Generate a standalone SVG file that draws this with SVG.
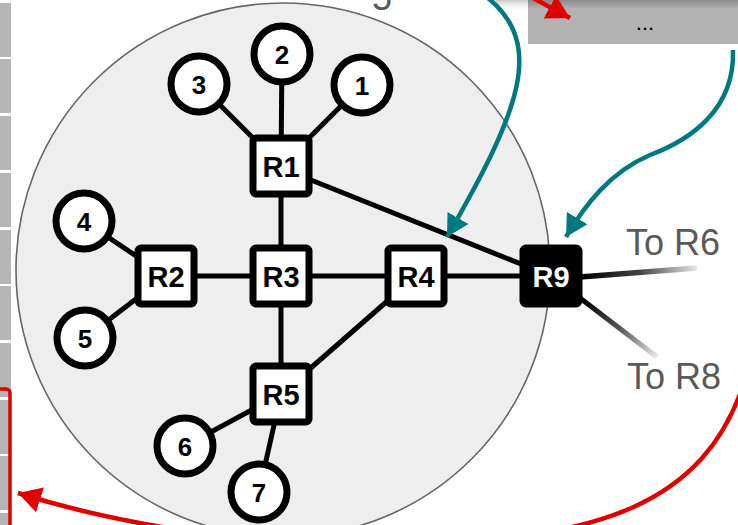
<svg xmlns="http://www.w3.org/2000/svg" width="738" height="525" viewBox="0 0 738 525">
<defs>
<style>
.cell{fill:#b5b5b5}
.edge{stroke:#000;stroke-width:5;stroke-linecap:butt;fill:none}
.rt rect{fill:#fff;stroke:#000;stroke-width:7}
.rt text{font-family:"Liberation Sans",Arial,sans-serif;font-weight:bold;font-size:29px;text-anchor:middle;fill:#000}
.host circle{fill:#fff;stroke:#000;stroke-width:7}
.host text{font-family:"Liberation Sans",Arial,sans-serif;font-weight:bold;font-size:26px;text-anchor:middle;fill:#000}
.lbl{font-family:"Liberation Sans",Arial,sans-serif;font-size:36px;fill:#595959}
.teal{stroke:#00787f;stroke-width:4.5;fill:none}
.red{stroke:#e00000;stroke-width:4.5;fill:none}
</style>
<marker id="mTeal" markerUnits="userSpaceOnUse" markerWidth="26" markerHeight="26" refX="22" refY="12" orient="auto" viewBox="0 0 26 26">
<path d="M0,0 L22,12 L0,24 z" fill="#00787f"/>
</marker>
<marker id="mRed" markerUnits="userSpaceOnUse" markerWidth="28" markerHeight="28" refX="23" refY="13" orient="auto" viewBox="0 0 28 28">
<path d="M0,0 L23,13 L0,26 z" fill="#e00000"/>
</marker>
<linearGradient id="gR6" gradientUnits="userSpaceOnUse" x1="583" y1="276" x2="697" y2="268">
<stop offset="0" stop-color="#000"/>
<stop offset="0.5" stop-color="#444"/>
<stop offset="1" stop-color="#e8e8e8"/>
</linearGradient>
<linearGradient id="gR8" gradientUnits="userSpaceOnUse" x1="583" y1="300" x2="657" y2="357">
<stop offset="0" stop-color="#000"/>
<stop offset="0.5" stop-color="#555"/>
<stop offset="1" stop-color="#e8e8e8"/>
</linearGradient>
<linearGradient id="gTop" x1="0" y1="0" x2="0" y2="1">
<stop offset="0" stop-color="#8a8a8a"/>
<stop offset="1" stop-color="#b3b3b3"/>
</linearGradient>
<linearGradient id="gShadow" x1="0" y1="0" x2="0" y2="1">
<stop offset="0" stop-color="#c8c8c8"/>
<stop offset="1" stop-color="#ffffff" stop-opacity="0"/>
</linearGradient>
</defs>

<rect width="738" height="525" fill="#fff"/>

<g id="table-cells">
<rect class="cell" x="0" y="3" width="11" height="54"/>
<rect class="cell" x="0" y="59" width="11" height="54"/>
<rect class="cell" x="0" y="116" width="11" height="54"/>
<rect class="cell" x="0" y="173" width="11" height="54"/>
<rect class="cell" x="0" y="230" width="11" height="54"/>
<rect class="cell" x="0" y="286" width="11" height="54"/>
<rect class="cell" x="0" y="343" width="11" height="54"/>
<rect class="cell" x="0" y="400" width="11" height="54"/>
<rect class="cell" x="0" y="456" width="11" height="54"/>
<rect class="cell" x="0" y="513" width="11" height="54"/>
</g>
<rect id="red-frame" x="-30" y="389" width="40" height="200" rx="4" fill="none" stroke="#e00000" stroke-width="3.5"/>

<g id="area">
<circle cx="283" cy="270" r="267" fill="#eeeeee" stroke="#666" stroke-width="1.6"/>
</g>

<text class="lbl" x="372" y="10">5</text>

<g id="top-box">
<rect x="528" y="0" width="212" height="44" fill="#b3b3b3"/>
<rect x="528" y="0" width="212" height="9" fill="url(#gTop)"/>
<rect x="496" y="0" width="32" height="12" fill="url(#gShadow)"/>
<text x="645" y="30" font-family="'Liberation Sans',Arial,sans-serif" font-size="22" text-anchor="middle" fill="#000">...</text>
</g>

<g id="connectors">
<line class="edge" x1="199" y1="84" x2="281" y2="166"/>
<line class="edge" x1="282" y1="54" x2="281" y2="166"/>
<line class="edge" x1="362" y1="85" x2="281" y2="166"/>
<line class="edge" x1="281" y1="166" x2="281" y2="276"/>
<line class="edge" x1="281" y1="168" x2="551" y2="276"/>
<line class="edge" x1="84" y1="221" x2="166" y2="276"/>
<line class="edge" x1="85" y1="338" x2="166" y2="276"/>
<line class="edge" x1="166" y1="276" x2="281" y2="276"/>
<line class="edge" x1="281" y1="276" x2="416" y2="276"/>
<line class="edge" x1="416" y1="276" x2="551" y2="276"/>
<line class="edge" x1="281" y1="276" x2="281" y2="394"/>
<line class="edge" x1="416" y1="276" x2="281" y2="394"/>
<line class="edge" x1="185" y1="446" x2="281" y2="394"/>
<line class="edge" x1="259" y1="492" x2="281" y2="394"/>
<line x1="580" y1="277" x2="697" y2="268" stroke="url(#gR6)" stroke-width="5.5"/>
<line x1="580" y1="298" x2="657" y2="357" stroke="url(#gR8)" stroke-width="5"/>
</g>

<g id="host-3" class="host"><circle cx="199" cy="84" r="28"/><text x="199" y="93.5">3</text></g>
<g id="host-2" class="host"><circle cx="282" cy="54" r="28"/><text x="282" y="63.5">2</text></g>
<g id="host-1" class="host"><circle cx="362" cy="85" r="28"/><text x="362" y="94.5">1</text></g>
<g id="host-4" class="host"><circle cx="84" cy="221" r="28"/><text x="84" y="230.5">4</text></g>
<g id="host-5" class="host"><circle cx="85" cy="338" r="28"/><text x="85" y="347.5">5</text></g>
<g id="host-6" class="host"><circle cx="185" cy="446" r="28"/><text x="185" y="455.5">6</text></g>
<g id="host-7" class="host"><circle cx="259" cy="492" r="28"/><text x="259" y="501.5">7</text></g>

<g id="R1" class="rt"><rect x="253" y="138" width="56" height="56" rx="3"/><text x="281" y="176.5">R1</text></g>
<g id="R2" class="rt"><rect x="138" y="248" width="56" height="56" rx="3"/><text x="166" y="286.5">R2</text></g>
<g id="R3" class="rt"><rect x="253" y="248" width="56" height="56" rx="3"/><text x="281" y="286.5">R3</text></g>
<g id="R4" class="rt"><rect x="388" y="248" width="56" height="56" rx="3"/><text x="416" y="286.5">R4</text></g>
<g id="R5" class="rt"><rect x="253" y="366" width="56" height="56" rx="3"/><text x="281" y="404.5">R5</text></g>
<g id="R9" class="rt"><rect x="523" y="248" width="56" height="56" rx="3" style="fill:#000"/><text x="551" y="286.5" style="fill:#fff">R9</text></g>

<text class="lbl" x="626" y="255">To R6</text>
<text class="lbl" x="627" y="389">To R8</text>

<g id="arrows">
<path class="teal" d="M488,-2 C545,45 520,110 447,237" marker-end="url(#mTeal)"/>
<path class="teal" d="M733,50 C735,110 690,140 650,155 C610,172 585,205 566,237" marker-end="url(#mTeal)"/>
<path class="red" d="M522,-8 L570,18" marker-end="url(#mRed)"/>
<path class="red" d="M745,380 C705,505 600,540 400,545 C250,548 110,522 18,493" marker-end="url(#mRed)"/>
</g>
</svg>
